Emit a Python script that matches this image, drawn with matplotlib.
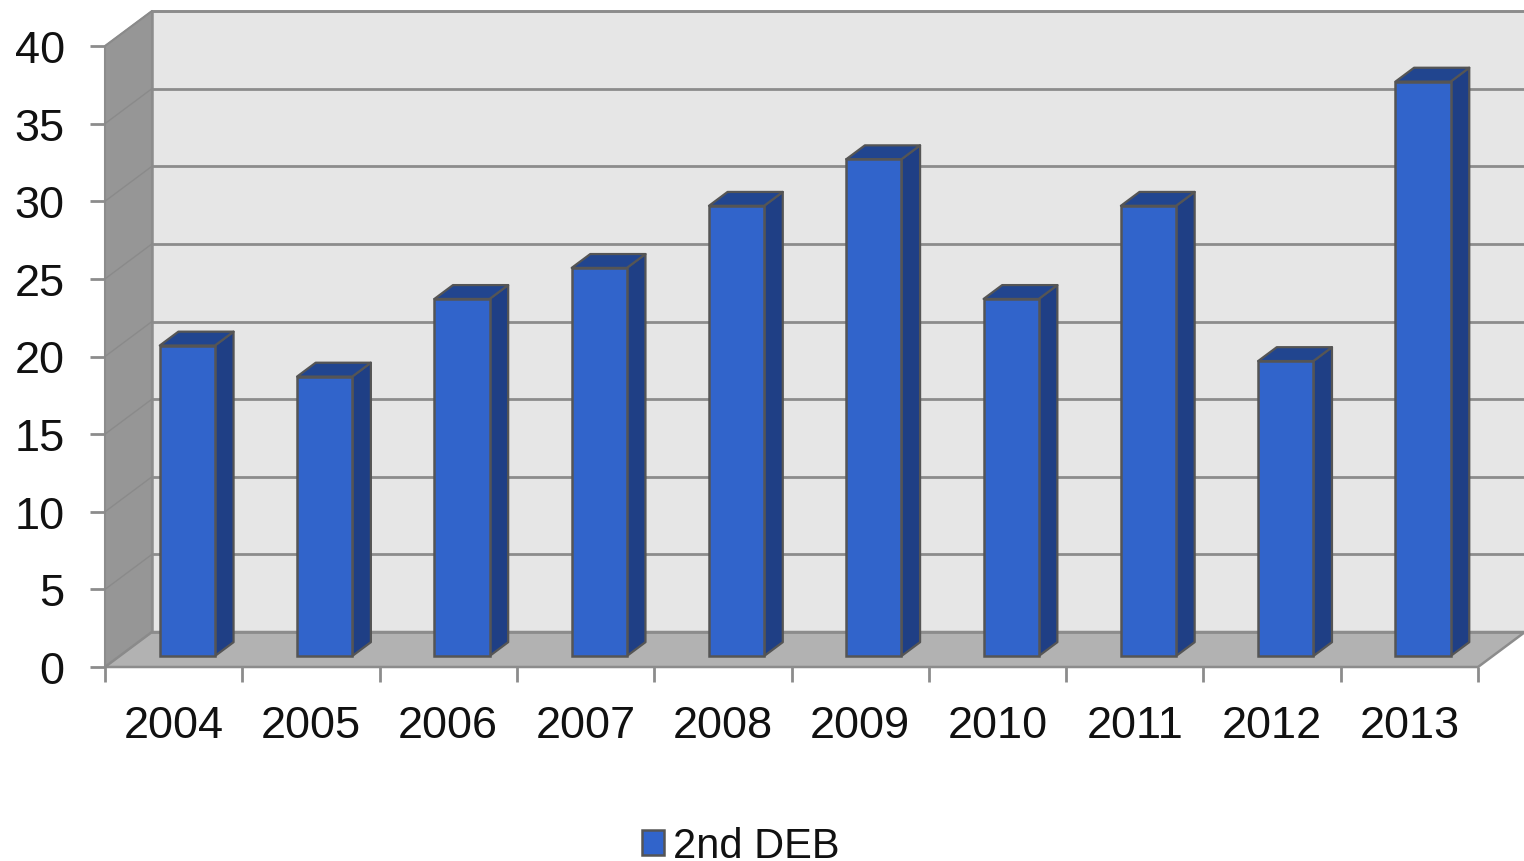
import numpy as np
import matplotlib
matplotlib.use("Agg")
import matplotlib.pyplot as plt

plt.rcParams["font.family"] = ["Liberation Sans", "DejaVu Sans"]

years = ["2004", "2005", "2006", "2007", "2008", "2009", "2010", "2011", "2012", "2013"]
values = [20, 18, 23, 25, 29, 32, 23, 29, 19, 37]
y_ticks = [0, 5, 10, 15, 20, 25, 30, 35, 40]
series_name = "2nd DEB"

# 3d look: how far the back wall is shifted, in data units
depth_x = 0.342
depth_y = 2.254
bar_width = 0.402
bar_front = 0.314  # front of the bars, as part of the depth
bar_back = 0.71
bar_shift = 0.1

front_col = "#3164CB"
side_col = "#1F3F85"
top_col = "#21458F"
edge_col = "#555555"
grid_col = "#8C8C8C"

fig = plt.figure(figsize=(15.24, 8.62), dpi=100)
ax = fig.add_axes([105 / 1524, 1 - 668 / 862, (1478 - 105) / 1524, (668 - 47) / 862])
n = len(years)
ax.set_xlim(0, n)
ax.set_ylim(0, 40)
for s in ax.spines.values():
    s.set_visible(False)
ax.patch.set_visible(False)


def poly(xs, ys, color, edge="none", lw=0, z=1):
    ax.fill(xs, ys, facecolor=color, edgecolor=edge, linewidth=lw, clip_on=False,
            zorder=z, joinstyle="round")


top = y_ticks[-1]
# walls and floor
poly([depth_x, n + depth_x, n + depth_x, depth_x],
     [depth_y, depth_y, top + depth_y, top + depth_y], "#E6E6E6", grid_col, 1.8)
poly([0, depth_x, depth_x, 0], [0, depth_y, top + depth_y, top], "#969696", grid_col, 1.5)
poly([0, n, n + depth_x, depth_x], [0, 0, depth_y, depth_y], "#B2B2B2", grid_col, 1.8)

# gridlines, back wall plus the slanted bit on the side wall
for t in y_ticks:
    ax.plot([depth_x, n + depth_x], [t + depth_y, t + depth_y], color=grid_col, lw=2.0,
            clip_on=False, zorder=2)
    ax.plot([0, depth_x], [t, t + depth_y], color="#8A8A8A", lw=1.0, clip_on=False, zorder=2)

x = np.arange(n) + 0.5
fx = x + bar_shift
base = bar_front * depth_y
dx = (bar_back - bar_front) * depth_x
dy = (bar_back - bar_front) * depth_y

for xi, v in zip(fx, values):
    l = xi - bar_width / 2
    r = xi + bar_width / 2
    # side and top faces
    poly([r, r + dx, r + dx, r], [base, base + dy, base + v + dy, base + v], side_col, edge_col, 1.6, 3)
    poly([l, r, r + dx, l + dx], [base + v, base + v, base + v + dy, base + v + dy], top_col, edge_col, 1.6, 3)

ax.bar(fx, values, width=bar_width, bottom=base, color=front_col, edgecolor=edge_col,
       linewidth=1.8, zorder=4, clip_on=False, label=series_name)

ax.set_yticks(y_ticks)
ax.tick_params(axis="y", length=11, width=2.0, color=grid_col, pad=18, labelsize=32.5,
               labelcolor="#111111")
ax.set_xticks(np.arange(n + 1))
ax.set_xticklabels([])
ax.tick_params(axis="x", which="major", length=10.5, width=2.0, color=grid_col)
ax.set_xticks(x, minor=True)
ax.set_xticklabels(years, minor=True)
ax.tick_params(axis="x", which="minor", length=0, pad=27, labelsize=32.5, labelcolor="#111111")

leg = fig.legend(loc="center", bbox_to_anchor=(740.5 / 1524, 1 - 847.5 / 862), frameon=False,
                 fontsize=30, handlelength=0.55, handleheight=0.55, handletextpad=0.2,
                 borderpad=0, labelcolor="#111111")

fig.savefig("out.png", dpi=100)
